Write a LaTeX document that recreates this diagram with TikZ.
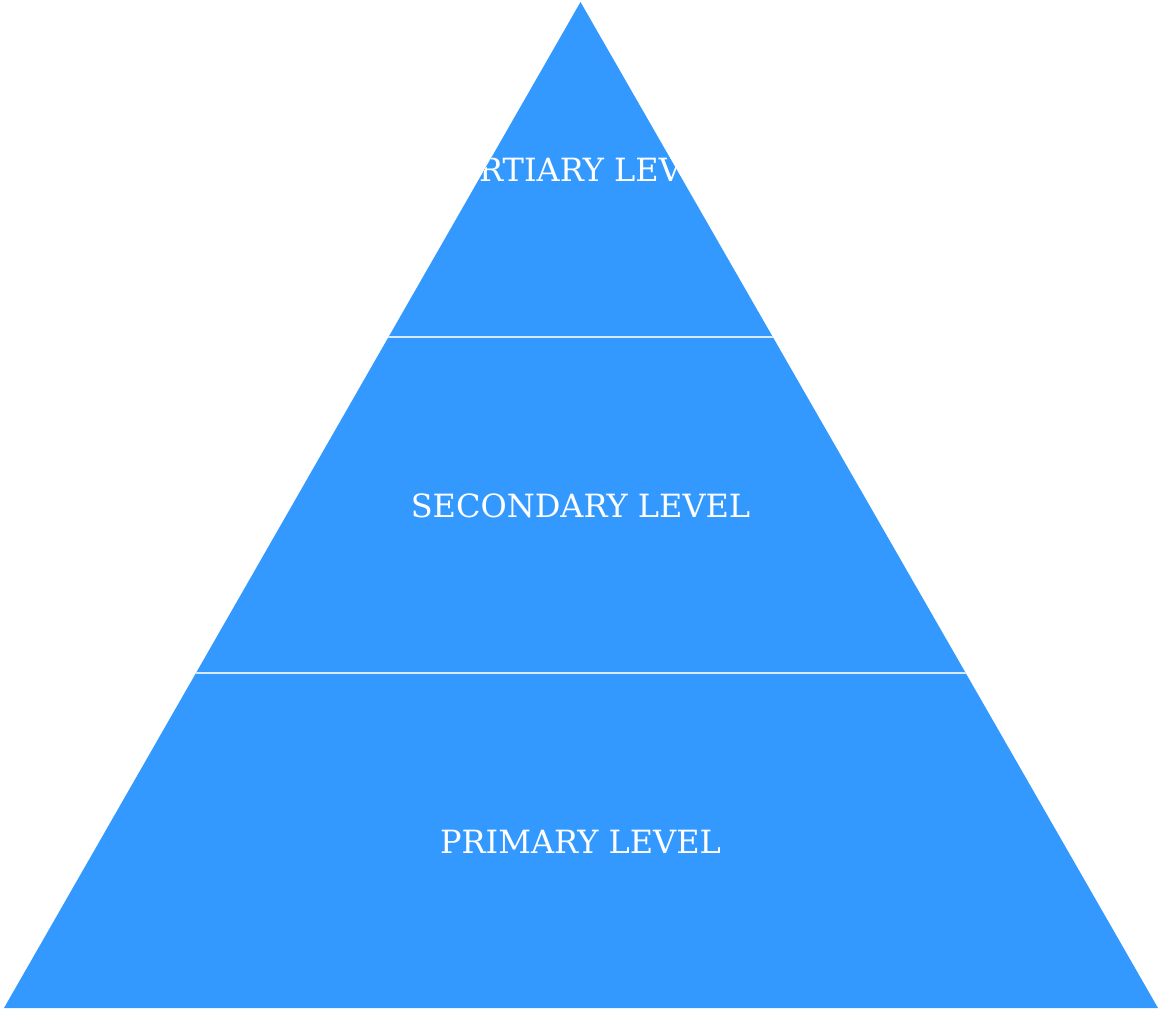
\documentclass[tikz,border=0pt]{standalone}
\usepackage{fontspec}
\setmainfont{DejaVu Serif}
\definecolor{pyr}{HTML}{3399FF}
\definecolor{sep}{HTML}{D8EAFF}
\begin{document}
\begin{tikzpicture}[x=1pt,y=-1pt,
  lvl/.style={text=white,font=\fontsize{32}{37}\selectfont,anchor=center,inner sep=0pt},
  seg/.style={fill=pyr,draw=none}]
\useasboundingbox (0,0) rectangle (1159,1010);
\coordinate (apex) at (580.5,2);
\coordinate (bl) at (4,1008);
\coordinate (br) at (1158,1008);
\fill[pyr] (apex) -- (br) -- (bl) -- cycle;
\begin{scope}
  \clip (apex) -- (br) -- (bl) -- cycle;
  \draw[sep,line width=1.6pt] (0,337) coordinate (s1l) -- (1159,337) coordinate (s1r);
  \draw[sep,line width=1.6pt] (0,673) coordinate (s2l) -- (1159,673) coordinate (s2r);
  \node[lvl] (ter) at (580.5,170) {TERTIARY LEVEL};
\end{scope}
\node[lvl] (sec) at (580.5,506) {SECONDARY LEVEL};
\node[lvl] (pri) at (580.5,842) {PRIMARY LEVEL};
\end{tikzpicture}
\end{document}
